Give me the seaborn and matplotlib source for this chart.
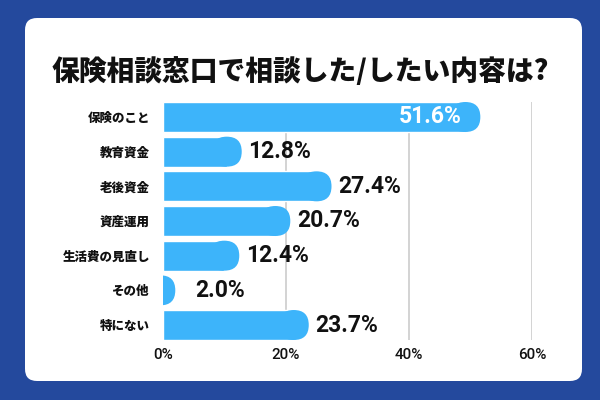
import pandas as pd
import seaborn as sns
import matplotlib.pyplot as plt
from matplotlib.patches import FancyBboxPatch

# data
categories = ["保険のこと", "教育資金", "老後資金", "資産運用", "生活費の見直し", "その他", "特にない"]
values = [51.6, 12.8, 27.4, 20.7, 12.4, 2.0, 23.7]
xticks = [0, 20, 40, 60]
xtick_labels = ["0%", "20%", "40%", "60%"]
title = "保険相談窓口で相談した/したい内容は?"

df = pd.DataFrame({"item": categories, "pct": values})

sns.set_theme(style="white")
plt.rcParams['font.family'] = ['Noto Sans CJK JP', 'DejaVu Sans']

bg_blue = "#24499d"
bar_blue = "#3db4fa"
num_font = "Roboto"

fig = plt.figure(figsize=(6, 4), dpi=100, facecolor=bg_blue)

# white rounded card, kept behind the axes
card = FancyBboxPatch((25 / 600, 1 - 381 / 400), 557 / 600, 363 / 400,
                      boxstyle="round,pad=0,rounding_size=0.02", mutation_aspect=1.5,
                      transform=fig.transFigure, facecolor="white", edgecolor="none",
                      zorder=-5)
fig.patches.append(card)

fig.text(0.5, 1 - 72 / 400, title, ha="center", va="center",
         fontsize=20, fontweight="black", color="#111111")

ax = fig.add_axes([163 / 600, 1 - 340 / 400, 369 / 600, 238 / 400])
ax.set_facecolor("none")
ax.set_zorder(1)

bar_w = 0.865
sns.barplot(data=df, x="pct", y="item", orient="h", color=bar_blue,
            width=bar_w, saturation=1, ax=ax, zorder=2)

# gridlines (no line at 0)
for t in xticks[1:]:
    ax.axvline(t, color="#cccccc", lw=1.2, zorder=1)

# rounded right ends
px_x = 369 / 60
px_y = 238 / (6 + bar_w)
ry = bar_w / 2
rx = (ry * px_y) / px_x
for p in list(ax.patches):
    y0 = p.get_y()
    w = p.get_width()
    h = p.get_height()
    p.set_width(max(w - rx, 0))
    cap = FancyBboxPatch((w - 2 * rx, y0), 2 * rx, h,
                         boxstyle=f"round,pad=0,rounding_size={rx}",
                         mutation_aspect=ry / rx, facecolor=bar_blue,
                         edgecolor="none", zorder=2)
    ax.add_patch(cap)

ax.set_xlim(0, 60)
ax.set_ylim(6 + bar_w / 2, -bar_w / 2)

# value labels
for i, v in enumerate(values):
    if i == 0:
        ax.text(v - 3.1, i, f"{v}%", color="white", ha="right", va="center",
                fontsize=16.5, family=num_font, fontweight="bold", zorder=3)
    else:
        ax.text(max(v + 1.1, 5.2), i, f"{v}%", color="#111111", ha="left",
                va="center", fontsize=16.5, family=num_font, fontweight="bold", zorder=3)

ax.set_xticks(xticks)
ax.set_xticklabels(xtick_labels, family=num_font, fontweight="medium")
ax.tick_params(axis="x", length=0, pad=6, labelsize=11, labelcolor="#111111")
ax.tick_params(axis="y", length=0, pad=9.5, labelsize=9, labelcolor="#111111")
for t in ax.get_yticklabels():
    t.set_fontweight("black")
ax.set_xlabel("")
ax.set_ylabel("")
ax.grid(False)
for s in ax.spines.values():
    s.set_visible(False)

fig.savefig("out.png", dpi=100, facecolor=fig.get_facecolor())
